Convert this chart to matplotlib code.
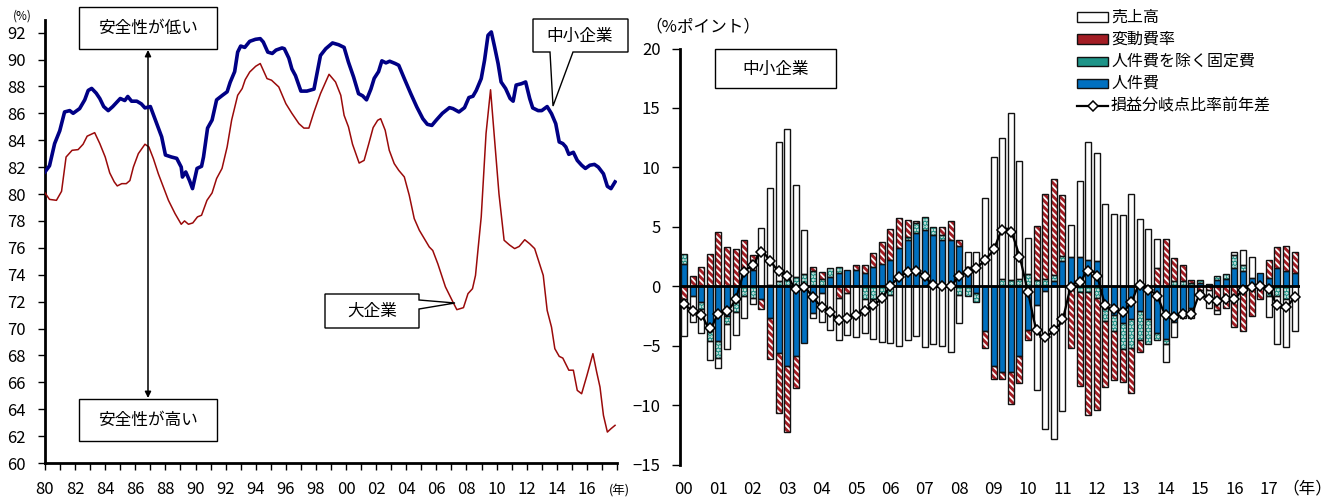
import numpy as np
import matplotlib
matplotlib.use("Agg")
import matplotlib.pyplot as plt
from matplotlib.patches import Polygon, Rectangle
from matplotlib.lines import Line2D
from matplotlib.path import Path
from matplotlib.patches import PathPatch

plt.rcParams['font.family'] = ['Noto Sans CJK JP', 'DejaVu Sans']
plt.rcParams['hatch.linewidth'] = 1.3

# ---------------- left panel: break-even ratio (%) ----------------
sme_t = [1980.0, 1980.3, 1980.64, 1980.98, 1981.3, 1981.64, 1981.87, 1982.3, 1982.64, 1982.87,
         1983.1, 1983.4, 1983.64, 1983.9, 1984.2, 1984.5, 1985.0, 1985.3, 1985.5, 1985.75,
         1986.1, 1986.4, 1986.64, 1987.0, 1987.3, 1987.75, 1988.0, 1988.4, 1988.75, 1989.05,
         1989.13, 1989.35, 1989.6, 1989.8, 1990.1, 1990.4, 1990.53, 1990.8, 1991.1, 1991.4,
         1991.8, 1992.1, 1992.3, 1992.6, 1992.8, 1993.0, 1993.27, 1993.6, 1993.98, 1994.3,
         1994.5, 1994.8, 1995.1, 1995.35, 1995.75, 1995.9, 1996.2, 1996.4, 1996.64, 1997.0,
         1997.4, 1997.87, 1998.3, 1998.65, 1999.1, 1999.5, 1999.87, 2000.16, 2000.5, 2000.83,
         2001.1, 2001.36, 2001.65, 2001.87, 2002.16, 2002.38, 2002.65, 2002.9, 2003.27, 2003.5,
         2003.87, 2004.3, 2004.7, 2005.1, 2005.4, 2005.7, 2006.0, 2006.4, 2006.87, 2007.1,
         2007.5, 2007.87, 2008.16, 2008.43, 2008.65, 2008.98, 2009.2, 2009.43, 2009.65, 2009.87,
         2010.1, 2010.3, 2010.6, 2010.9, 2011.1, 2011.3, 2011.65, 2011.93, 2012.2, 2012.4,
         2012.76, 2013.0, 2013.36, 2013.65, 2013.93, 2014.16, 2014.4, 2014.6, 2014.8, 2015.1,
         2015.36, 2015.65, 2015.9, 2016.2, 2016.5, 2016.76, 2017.1, 2017.36, 2017.6, 2017.87]
sme_v = [81.64, 82.1, 83.75, 84.7, 86.1, 86.2, 86.0, 86.35, 87.0, 87.7,
         87.85, 87.5, 87.1, 86.5, 86.2, 86.5, 87.1, 86.95, 87.25, 86.9,
         86.9, 86.7, 86.4, 86.5, 85.6, 84.25, 82.9, 82.75, 82.65, 82.0,
         81.26, 81.64, 81.0, 80.4, 81.9, 82.06, 82.75, 84.9, 85.5, 87.0,
         87.35, 87.6, 88.3, 89.1, 90.55, 91.0, 90.9, 91.35, 91.5, 91.55,
         91.3, 90.55, 90.45, 90.7, 90.86, 90.8, 90.1, 89.3, 88.8, 87.65,
         87.65, 87.8, 90.3, 90.8, 91.23, 91.1, 90.9, 89.8, 88.7, 87.46,
         87.3, 87.0, 87.8, 88.6, 89.1, 89.9, 89.75, 89.87, 89.7, 89.57,
         88.58, 87.46, 86.47, 85.6, 85.18, 85.1, 85.5, 86.0, 86.42, 86.35,
         86.1, 86.42, 87.17, 87.27, 87.7, 88.58, 89.94, 91.8, 92.05, 90.93,
         89.7, 88.33, 87.84, 87.1, 86.9, 88.1, 88.2, 88.33, 87.1, 86.4,
         86.2, 86.2, 86.5, 85.97, 85.23, 83.87, 83.75, 83.5, 82.95, 83.1,
         82.5, 82.14, 81.9, 82.14, 82.2, 82.0, 81.5, 80.57, 80.4, 80.9]

large_t = [1980.0, 1980.3, 1980.76, 1981.1, 1981.4, 1981.8, 1982.2, 1982.53, 1982.8, 1983.3,
           1983.64, 1984.0, 1984.3, 1984.6, 1984.8, 1985.1, 1985.4, 1985.64, 1985.87, 1986.2,
           1986.64, 1986.9, 1987.2, 1987.53, 1987.87, 1988.2, 1988.64, 1989.05, 1989.27, 1989.53,
           1989.82, 1990.13, 1990.4, 1990.76, 1991.1, 1991.4, 1991.76, 1992.1, 1992.4, 1992.8,
           1993.1, 1993.3, 1993.6, 1994.0, 1994.3, 1994.75, 1995.05, 1995.53, 1996.0, 1996.4,
           1996.87, 1997.2, 1997.53, 1997.87, 1998.3, 1998.87, 1999.3, 1999.65, 1999.87, 2000.16,
           2000.43, 2000.87, 2001.2, 2001.5, 2001.8, 2002.1, 2002.3, 2002.6, 2002.87, 2003.2,
           2003.5, 2003.87, 2004.2, 2004.53, 2004.87, 2005.2, 2005.53, 2005.76, 2006.1, 2006.6,
           2007.1, 2007.36, 2007.8, 2008.1, 2008.4, 2008.6, 2008.76, 2008.98, 2009.3, 2009.6,
           2009.87, 2010.16, 2010.5, 2010.87, 2011.2, 2011.5, 2011.87, 2012.2, 2012.53, 2013.1,
           2013.36, 2013.65, 2013.87, 2014.16, 2014.4, 2014.8, 2015.1, 2015.36, 2015.65, 2016.0,
           2016.4, 2016.65, 2016.87, 2017.1, 2017.36, 2017.6, 2017.87]
large_v = [80.08, 79.6, 79.53, 80.2, 82.75, 83.25, 83.3, 83.7, 84.3, 84.56,
           83.75, 82.75, 81.57, 80.9, 80.6, 80.77, 80.77, 81.0, 82.0, 83.0,
           83.7, 83.5, 82.63, 81.5, 80.5, 79.53, 78.54, 77.75, 78.0, 77.75,
           77.85, 78.3, 78.42, 79.53, 80.08, 81.15, 81.9, 83.5, 85.5, 87.34,
           87.84, 88.5, 89.07, 89.5, 89.7, 88.58, 88.46, 87.96, 86.72, 86.0,
           85.23, 84.9, 84.9, 86.1, 87.46, 88.9, 88.33, 87.34, 85.85, 84.99,
           83.7, 82.3, 82.5, 83.7, 84.94, 85.48, 85.6, 84.74, 83.25, 82.26,
           81.76, 81.27, 79.9, 78.17, 77.3, 76.68, 76.06, 75.8, 74.8, 73.1,
           71.97, 71.4, 71.55, 72.59, 72.96, 73.95, 75.8, 78.3, 84.5, 87.75,
           84.0, 80.0, 76.56, 76.2, 75.94, 76.1, 76.6, 76.3, 75.94, 73.95,
           71.35, 70.1, 68.5, 67.93, 67.8, 66.9, 66.9, 65.4, 65.15, 66.5,
           68.13, 66.76, 65.65, 63.54, 62.3, 62.55, 62.8]

# ---------------- right panel: contributions (%pt), 2000Q1-2017Q4 ----------------
year_labels = ['00', '01', '02', '03', '04', '05', '06', '07', '08',
               '09', '10', '11', '12', '13', '14', '15', '16', '17']

labor = [1.9, -0.8, -1.35, -3.8, -4.65, -2.5, -1.3, 1.25, 1.4, -1.1,
         -2.7, -5.6, -6.7, -5.9, -4.8, -2.25, -0.6, 0.8, 1.1, 1.4,
         1.35, 1.1, 1.6, 1.9, 2.2, 3.2, 3.9, 4.5, 4.75, 4.3,
         3.9, 3.85, 3.4, 1.65, -0.6, -3.8, -6.7, -7.2, -7.2, -5.9,
         -3.7, -1.6, -0.4, 0.4, 2.1, 2.5, 2.45, 2.2, 2.1, -1.85,
         -2.4, -3.1, -2.8, -2.1, -2.8, -3.9, -4.4, -3.0, -2.1, -1.8,
         0.3, 0.2, 0.5, 0.6, 1.5, 1.25, 0.7, 1.15, 0.7, 1.5,
         1.25, 1.1]
fixed_ex_labor = [0.85, 0.0, -0.6, -0.8, -1.35, -0.7, -0.9, -0.8, -1.0, 0.0,
                  0.1, 0.4, 0.6, 0.8, 1.05, 1.25, 0.6, 0.7, 0.55, 0.0,
                  0.0, -1.1, -1.1, -0.7, -0.7, 0.0, 0.2, 0.8, 1.1, 0.7,
                  0.4, 0.0, -0.7, -0.8, -0.75, 0.0, 0.0, 0.6, 0.5, 0.6,
                  1.0, 0.5, 0.6, 0.55, 0.45, 0.0, -0.45, -0.45, -1.0, -1.1,
                  -1.4, -2.2, -2.4, -2.4, -2.1, -0.6, -0.5, 0.4, 0.4, 0.3,
                  0.2, 0.0, 0.4, 0.4, 1.1, 0.55, 0.0, 0.0, -0.85, -0.8,
                  -1.1, 0.0]
variable_ratio = [-1.1, 0.9, 1.65, 2.7, 4.6, 3.3, 3.1, 2.6, 1.25, -0.8,
                  -3.4, -5.1, -5.6, -2.7, 0.0, 0.4, 0.6, 0.0, -1.0, -0.6,
                  0.4, 0.65, 1.2, 1.8, 2.6, 2.5, 1.5, 0.15, 0.0, 0.0,
                  0.7, 1.65, 0.45, 0.0, 0.0, -1.4, -1.1, -0.6, -2.7, -2.25,
                  -0.8, 4.55, 7.2, 8.1, 5.15, -5.2, -7.95, -10.4, -9.45, -5.55,
                  -4.05, -2.8, -3.8, -1.0, 0.0, 1.5, 4.0, 2.0, 1.4, 0.25,
                  -0.3, -0.3, -2.0, -1.8, -3.4, -3.8, -2.5, -1.1, 1.5, 1.8,
                  2.15, 1.8]
sales = [-3.1, -2.2, -1.95, -1.6, -0.9, -2.1, -1.9, -1.9, -0.5, 4.9,
         8.2, 11.7, 12.6, 7.7, 3.65, -0.45, -2.4, -3.7, -3.55, -3.5,
         -4.3, -2.85, -3.3, -4.0, -4.1, -5.0, -4.5, -4.2, -5.1, -4.9,
         -5.05, -5.5, -2.4, 1.2, 2.85, 7.45, 10.9, 11.85, 14.05, 9.97,
         3.05, -7.15, -11.65, -12.85, -10.5, 2.67, 6.42, 9.97, 9.09, 6.93,
         6.07, 5.95, 7.8, 5.65, 4.8, 2.49, -1.5, -1.3, -0.6, -0.9,
         -0.6, -1.5, -0.3, 0.0, 0.25, 1.25, 1.8, 0.0, -1.75, -4.05,
         -4.0, -3.8]
breakeven_diff = [-1.5, -2.06, -2.4, -3.5, -2.34, -2.1, -1.05, 1.16, 1.75, 2.87,
                  2.14, 1.27, 0.88, -0.24, -0.1, -0.94, -1.75, -2.14, -2.87, -2.65,
                  -2.42, -2.06, -1.61, -1.0, 0.0, 0.74, 1.16, 1.27, 0.83, 0.07,
                  0.0, 0.0, 0.88, 1.16, 1.53, 2.23, 3.1, 4.7, 4.55, 2.5,
                  -0.5, -3.65, -4.27, -3.66, -2.8, -0.1, 0.35, 1.25, 0.83, -1.55,
                  -1.9, -2.15, -1.3, 0.13, -0.3, -0.85, -2.4, -2.6, -2.3, -2.3,
                  -0.7, -1.1, -1.25, -1.05, -1.05, -0.3, -0.07, 0.04, -0.25, -1.6,
                  -1.75, -0.9]
legend_labels = ['売上高', '変動費率', '人件費を除く固定費', '人件費', '損益分岐点比率前年差']

W, H = 1336, 500
fig = plt.figure(figsize=(W / 100, H / 100), dpi=100)


def fx(x):
    return x / W


def fy(y):
    return 1 - y / H


def callout(points, text_xy, label, fontsize=12):
    poly = Polygon([(fx(x), fy(y)) for x, y in points], closed=True,
                   transform=fig.transFigure, facecolor='white',
                   edgecolor='black', linewidth=1.0, zorder=5)
    fig.add_artist(poly)
    fig.text(fx(text_xy[0]), fy(text_xy[1]), label, ha='center', va='center',
             fontsize=fontsize, zorder=6)


# ===== left panel =====
ax1 = fig.add_axes([fx(45), fy(463), fx(617) - fx(45), fy(20) - fy(463)])
ax1.plot(large_t, large_v, color='#9A0A0A', lw=1.1, zorder=3)
ax1.plot(sme_t, sme_v, color='#000085', lw=2.6, zorder=4)
ax1.set_xlim(1980, 2018)
ax1.set_ylim(60, 60 + (463 - 20) / 13.45)
ax1.set_yticks(np.arange(60, 93, 2))
years = np.arange(1980, 2019)
ax1.set_xticks(years)
ax1.set_xticklabels([f"{y % 100:02d}" if (y % 2 == 0 and y <= 2016) else '' for y in years])
for s in ['top', 'right']:
    ax1.spines[s].set_visible(False)
for s in ['left', 'bottom']:
    ax1.spines[s].set_linewidth(2.0)
ax1.tick_params(axis='y', direction='out', length=5, width=1, labelsize=12, pad=9)
ax1.tick_params(axis='x', direction='out', length=5, width=1, labelsize=12, pad=8)
fig.text(fx(22), fy(16), '(%)', ha='center', va='center', fontsize=8.5)
fig.text(fx(619), fy(491), '(年)', ha='center', va='center', fontsize=9)

# safety arrow and boxes
ax1.annotate('', xy=(fx(148), fy(50)), xytext=(fx(148), fy(398)),
             xycoords='figure fraction', textcoords='figure fraction',
             arrowprops=dict(arrowstyle='<|-|>', color='black', lw=1.1,
                             mutation_scale=9, shrinkA=0, shrinkB=0))
callout([(79, 7), (217, 7), (217, 49), (79, 49)], (148, 28), '安全性が低い')
callout([(79, 399), (217, 399), (217, 441), (79, 441)], (148, 420), '安全性が高い')
callout([(533, 19), (628, 19), (628, 52), (573, 52), (553, 106), (550, 52), (533, 52)],
        (580, 36), '中小企業')
callout([(325, 294), (419, 294), (419, 300), (455, 303), (419, 309), (419, 328), (325, 328)],
        (372, 311), '大企業')

# ===== right panel =====
ax2 = fig.add_axes([fx(680), fy(464.5), fx(1300) - fx(680), fy(48.5) - fy(464.5)])
n = len(sales)
x = np.arange(n)
bw = 0.68

BLUE = '#0070C0'
RED = '#A31D24'
TEAL = '#1E9488'

# fills: hatch lines take the edge colour, outlines are drawn in a second pass
WHITE_FILL = dict(color='white')
BLUE_FILL = dict(color=BLUE)
STRIPE = dict(color=RED, edgecolor='white', hatch='\\\\\\\\\\')
DOTS = dict(color=TEAL, edgecolor='white', hatch='.....')

series = [
    (np.array(labor), BLUE_FILL),
    (np.array(fixed_ex_labor), DOTS),
    (np.array(variable_ratio), STRIPE),
    (np.array(sales), WHITE_FILL),
]
pos_base = np.zeros(n)
neg_base = np.zeros(n)
for vals, style in series:
    pos = np.where(vals > 0, vals, 0.0)
    neg = np.where(vals < 0, vals, 0.0)
    for part, base in ((pos, pos_base), (neg, neg_base)):
        m = part != 0
        if not m.any():
            continue
        ax2.bar(x[m], part[m], bw, bottom=base[m], linewidth=0, zorder=2, **style)
        ax2.bar(x[m], part[m], bw, bottom=base[m], fill=False,
                edgecolor='#111111', linewidth=1.0, zorder=3)
    pos_base += pos
    neg_base += neg

ax2.axhline(0, color='black', lw=2.0, zorder=4)

# smoothed line through the quarterly points
yv = np.array(breakeven_diff)
verts = [(x[0], yv[0])]
codes = [Path.MOVETO]
for k in range(n - 1):
    p0 = np.array([x[max(k - 1, 0)], yv[max(k - 1, 0)]])
    p1 = np.array([x[k], yv[k]])
    p2 = np.array([x[k + 1], yv[k + 1]])
    p3 = np.array([x[min(k + 2, n - 1)], yv[min(k + 2, n - 1)]])
    c1 = p1 + (p2 - p0) / 6.0
    c2 = p2 - (p3 - p1) / 6.0
    verts += [tuple(c1), tuple(c2), tuple(p2)]
    codes += [Path.CURVE4] * 3
ax2.add_patch(PathPatch(Path(verts, codes), facecolor='none', edgecolor='black',
                        lw=1.6, zorder=5))
ax2.plot(x, yv, linestyle='none', marker='D', markersize=4.6, markerfacecolor='white',
         markeredgecolor='black', markeredgewidth=1.1, zorder=6)

ax2.set_xlim(-0.465, 71.63)
ax2.set_ylim(-15, 20)
ax2.set_yticks(np.arange(-15, 21, 5))
ax2.set_xticks(np.arange(0, n, 4))
ax2.set_xticklabels(year_labels)
for s in ['top', 'right', 'bottom']:
    ax2.spines[s].set_visible(False)
ax2.spines['left'].set_linewidth(2.0)
ax2.tick_params(axis='y', direction='out', length=6, width=1, labelsize=12, pad=8)
ax2.tick_params(axis='x', length=0, labelsize=12, pad=12)

fig.text(fx(645), fy(27), '（%ポイント）', ha='left', va='center', fontsize=12)
fig.text(fx(1282), fy(489), '（年）', ha='left', va='center', fontsize=12)
callout([(715, 49), (836, 49), (836, 88), (715, 88)], (775.5, 69), '中小企業')

# legend: swatches drawn with the same fills as the bars
row_y = [17, 39, 61.5, 83.5, 106]
key_x0, key_w, key_h = 1077, 31, 9
for lab, yrow, style in zip(legend_labels, row_y,
                            [WHITE_FILL, STRIPE, DOTS, BLUE_FILL, None]):
    if style is not None:
        fig.add_artist(Rectangle((fx(key_x0), fy(yrow + key_h / 2)), key_w / W, key_h / H,
                                 transform=fig.transFigure, linewidth=0, **style))
        fig.add_artist(Rectangle((fx(key_x0), fy(yrow + key_h / 2)), key_w / W, key_h / H,
                                 transform=fig.transFigure, fill=False,
                                 edgecolor='#111111', linewidth=1.0))
    else:
        fig.add_artist(Line2D([fx(key_x0), fx(key_x0 + key_w)], [fy(yrow), fy(yrow)],
                              transform=fig.transFigure, color='black', lw=1.6))
        fig.add_artist(Line2D([fx(key_x0 + key_w / 2)], [fy(yrow)],
                              transform=fig.transFigure, linestyle='none', marker='D',
                              markersize=4.6, markerfacecolor='white',
                              markeredgecolor='black', markeredgewidth=1.1))
    fig.text(fx(1111), fy(yrow), lab, ha='left', va='center', fontsize=11.5)

fig.savefig('out.png', dpi=100)
